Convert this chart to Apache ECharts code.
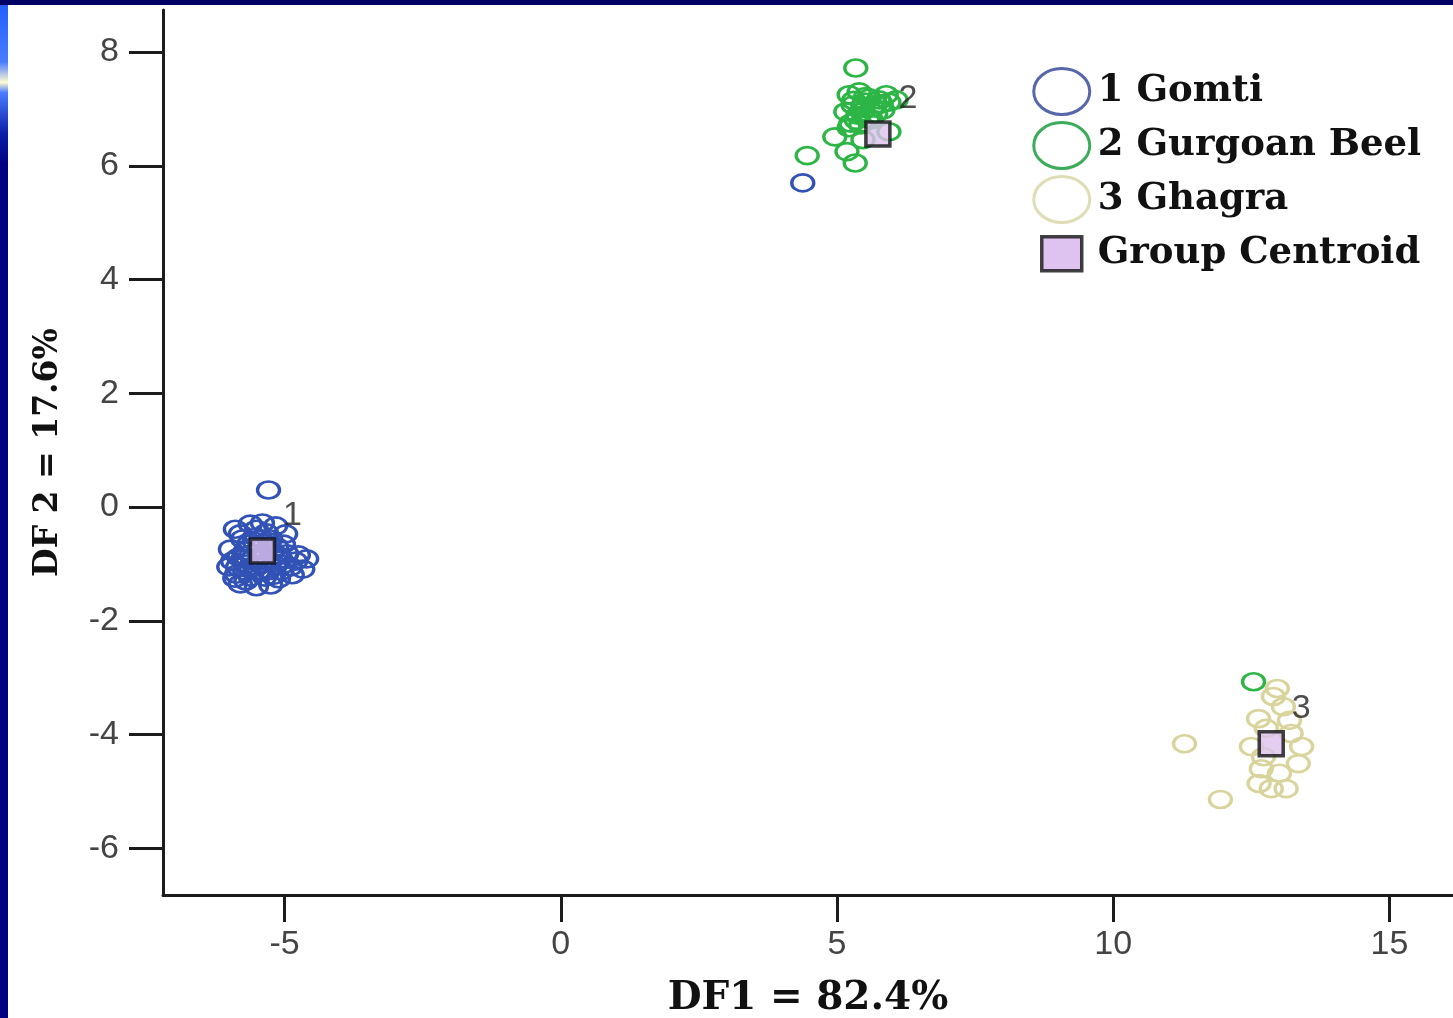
<!DOCTYPE html>
<html>
<head>
<meta charset="utf-8">
<script src="https://cdn.jsdelivr.net/npm/echarts@6/dist/echarts.min.js"></script>
<style>html,body{margin:0;padding:0;background:#fff;overflow:hidden}#c{width:1453px;height:1018px}</style>
</head>
<body>
<div id="c"></div>
<script>
// ---- data ----
const xTicks = [-5, 0, 5, 10, 15];
const yTicks = [-6, -4, -2, 0, 2, 4, 6, 8];
const groupNames = ['1 Gomti', '2 Gurgoan Beel', '3 Ghagra'];
const centroidName = 'Group Centroid';
const clusterLabels = ['1', '2', '3'];

const gomti = [
  [-5.89,-0.39],[-5.62,-0.30],[-5.40,-0.28],[-5.16,-0.33],[-4.98,-0.47],[-5.76,-0.56],
  [-5.51,-0.53],[-5.25,-0.56],[-5.02,-0.65],[-5.98,-0.74],[-5.71,-0.77],[-5.47,-0.74],
  [-5.22,-0.79],[-4.96,-0.82],[-4.75,-0.84],[-4.60,-0.91],[-5.94,-0.95],[-5.69,-1.00],
  [-5.43,-1.00],[-5.16,-1.02],[-4.89,-1.05],[-4.67,-1.09],[-5.87,-1.18],[-5.62,-1.23],
  [-5.36,-1.23],[-5.11,-1.26],[-4.86,-1.19],[-5.80,-1.35],[-5.51,-1.40],[-5.25,-1.37],
  [-6.01,-1.05],[-5.36,-0.63],[-5.58,-0.91],[-5.07,-0.91],[-5.29,-1.12],[-5.72,-1.12],
  [-5.51,-0.39],[-5.83,-0.88],[-5.65,-0.65],[-5.40,-0.88],[-5.14,-0.70],[-5.80,-0.47],
  [-5.05,-1.12],[-5.47,-1.12],[-5.62,-1.05],[-5.20,-1.20],[-4.80,-0.95],[-5.90,-1.25],
  [-5.33,-0.45],[-5.70,-1.30],[-5.55,-0.60],[-5.28,-0.68],[-5.75,-0.90],[-5.12,-0.85],
  [-5.50,-1.05],[-5.30,-0.95],[-5.85,-1.05],[-5.00,-1.00],[-5.29,0.30],[4.38,5.70]
];
const gurgoan = [
  [5.34,7.72],[4.46,6.18],[4.96,6.51],[5.22,6.67],[5.18,6.25],[5.33,6.05],[5.47,6.46],
  [5.94,6.60],[5.22,7.25],[5.40,7.30],[5.58,7.19],[5.76,7.16],[5.94,7.12],[5.29,7.07],
  [5.47,7.05],[5.65,7.02],[5.83,6.98],[5.16,6.95],[5.38,6.89],[5.56,6.84],[5.25,6.75],
  [5.43,6.72],[5.62,6.81],[5.80,7.09],[6.07,7.16],[5.89,7.25],[5.30,7.15],[5.50,7.12],
  [5.70,7.08],[5.45,6.95],[5.70,6.92],[5.35,6.80],[5.52,7.22],[12.54,-3.07]
];
const ghagra = [
  [11.29,-4.16],[11.94,-5.14],[12.50,-4.21],[12.63,-3.72],[12.90,-3.33],[13.08,-3.51],
  [12.97,-3.19],[13.41,-4.21],[13.35,-4.51],[13.22,-3.98],[12.68,-4.60],[12.64,-4.86],
  [12.86,-4.95],[13.13,-4.95],[13.01,-4.68],[12.72,-4.39],[13.19,-3.75],[12.77,-3.89]
];
const centroids = [[-5.40,-0.77],[5.74,6.56],[12.86,-4.16]];

// ---- styling ----
const ELLIPSE = 'path://M0,8A10,8 0 1,1 20,8A10,8 0 1,1 0,8Z';
const SQUARE_ICON = 'path://M0,0L0,0M56,46L56,46M8,6L48,6L48,40L8,40Z';
const colors = ['#3252b6', '#2db546', '#d8d49c'];
const legendColors = ['#5866aa', '#3cab5a', '#deddb6'];
const serifBold = {fontFamily: 'DejaVu Serif', fontWeight: 'bold', color: '#111'};

function groupSeries(name, data, color) {
  return {
    name: name, type: 'scatter', data: data,
    symbol: ELLIPSE, symbolSize: [22, 17],
    itemStyle: {color: 'rgba(0,0,0,0)', borderColor: color, borderWidth: 3, opacity: 1},
    emphasis: {disabled: true}, z: 2
  };
}

const chart = echarts.init(document.getElementById('c'), null, {renderer: 'canvas'});
chart.setOption({
  animation: false,
  backgroundColor: '#ffffff',
  grid: {left: 163, top: 10, width: 1290, height: 885, containLabel: false, outerBoundsMode: 'none'},
  xAxis: {
    type: 'value', min: -7.2, max: 16.15,
    name: 'DF1 = 82.4%', nameLocation: 'middle', nameGap: 84,
    nameTextStyle: Object.assign({fontSize: 39}, serifBold),
    axisLine: {show: true, onZero: false, lineStyle: {color: '#1c1c1c', width: 3}},
    axisTick: {show: true, length: 27, customValues: xTicks, lineStyle: {color: '#1c1c1c', width: 3}},
    axisLabel: {customValues: xTicks, margin: 33, fontSize: 34, color: '#444', fontFamily: 'Liberation Sans'},
    splitLine: {show: false}
  },
  yAxis: {
    type: 'value', min: -6.82, max: 8.74,
    name: 'DF 2 = 17.6%', nameLocation: 'middle', nameGap: 98,
    nameTextStyle: Object.assign({fontSize: 33}, serifBold),
    axisLine: {show: true, onZero: false, lineStyle: {color: '#1c1c1c', width: 3}},
    axisTick: {show: true, length: 34, customValues: yTicks, lineStyle: {color: '#1c1c1c', width: 3}},
    axisLabel: {customValues: yTicks, margin: 44, fontSize: 34, color: '#444', fontFamily: 'Liberation Sans'},
    splitLine: {show: false}
  },
  legend: {
    orient: 'vertical', left: 1027, top: 62,
    itemWidth: 56, itemHeight: 46, itemGap: 5,
    symbolKeepAspect: false,
    selectedMode: false,
    textStyle: Object.assign({fontSize: 37, lineHeight: 46, padding: [0, 0, 0, 3]}, serifBold),
    data: [
      {name: groupNames[0], icon: ELLIPSE, itemStyle: {color: 'rgba(0,0,0,0)', borderColor: legendColors[0], borderWidth: 3}},
      {name: groupNames[1], icon: ELLIPSE, itemStyle: {color: 'rgba(0,0,0,0)', borderColor: legendColors[1], borderWidth: 3}},
      {name: groupNames[2], icon: ELLIPSE, itemStyle: {color: 'rgba(0,0,0,0)', borderColor: legendColors[2], borderWidth: 3}},
      {name: centroidName, icon: SQUARE_ICON, itemStyle: {color: '#d6b4ee', borderColor: '#111', borderWidth: 3.5}}
    ]
  },
  graphic: [
    {type: 'rect', left: 0, top: 0, z: 100, shape: {width: 8, height: 1030},
      style: {fill: {type: 'linear', x: 0, y: 0, x2: 0, y2: 1, colorStops: [
        {offset: 0, color: '#1f5dff'}, {offset: 0.06, color: '#4a7cff'}, {offset: 0.08, color: '#fffbd0'},
        {offset: 0.09, color: '#4a7cff'}, {offset: 0.13, color: '#0a1ea8'}, {offset: 0.16, color: '#000080'},
        {offset: 1, color: '#000080'}]}}},
    {type: 'rect', left: 0, top: 0, z: 100, shape: {width: 1453, height: 5}, style: {fill: '#000066'}}
  ],
  series: [
    groupSeries(groupNames[0], gomti, colors[0]),
    groupSeries(groupNames[1], gurgoan, colors[1]),
    groupSeries(groupNames[2], ghagra, colors[2]),
    {
      name: centroidName, type: 'scatter', data: centroids, z: 5,
      symbol: 'rect', symbolSize: 24,
      itemStyle: {color: '#dcc0ec', borderColor: '#111', borderWidth: 3.5},
      emphasis: {disabled: true},
      label: {show: true, position: 'inside', offset: [30, -35],
        formatter: function (p) { return clusterLabels[p.dataIndex]; },
        fontSize: 34, color: '#222', fontFamily: 'Liberation Sans'}
    }
  ]
});
</script>
</body>
</html>
